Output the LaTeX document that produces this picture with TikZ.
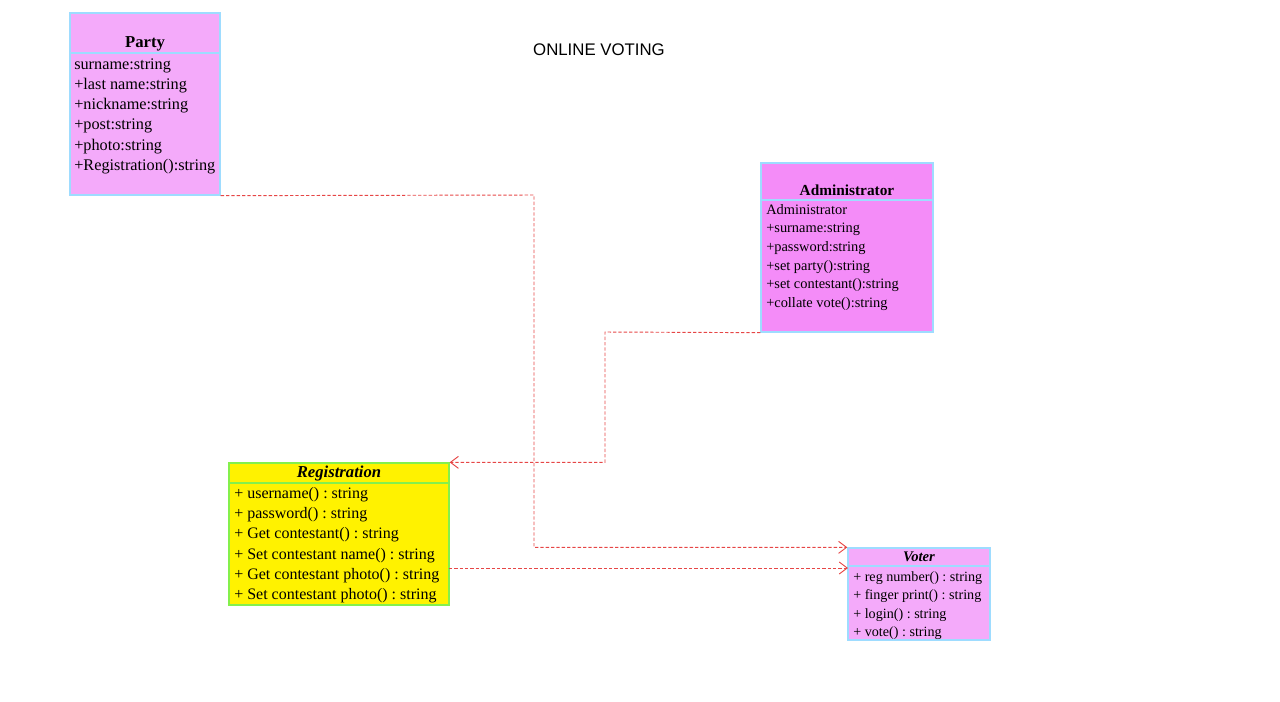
\documentclass[tikz,border=0pt]{standalone}
\usepackage{fontspec}
\setmainfont{Liberation Serif}
\newfontfamily\headfont{Liberation Sans}
\usepackage{tikz}
\usetikzlibrary{shapes,arrows.meta}
\usetikzlibrary{positioning}
\definecolor{partypink}{HTML}{F4AAFA}
\definecolor{adminpink}{HTML}{F48CF8}
\definecolor{edgecyan}{HTML}{9EDCFF}
\definecolor{reggreen}{HTML}{84F04C}
\definecolor{linkred}{HTML}{E64646}
\frenchspacing
\tikzstyle{classbox} = [draw=edgecyan, line width=1pt, fill=partypink, rectangle, inner sep=0pt]
\tikzstyle{classname} = [font=\bfseries, inner sep=0pt, anchor=base]
\tikzstyle{members} = [align=left, anchor=north west, inner sep=0pt]
\tikzstyle{link} = [draw=linkred, line width=0.7pt, dash pattern=on 2.5pt off 1.5pt, -{Straight Barb[length=6pt,width=9pt]}]

\begin{document}
\begin{tikzpicture}[x=0.75pt, y=-0.75pt]
\useasboundingbox (0,0) rectangle (1280,701);

% Title
\node [font=\headfont\fontsize{12.6}{14}\selectfont, name=heading] at (599,50) {ONLINE VOTING};

% Classes
\node [classbox, minimum width=112.5pt, minimum height=136.5pt, name=party] at (145,104) {};
\draw [edgecyan, line width=1pt] (70,53) -- (220,53);
\node [classname, font=\bfseries\fontsize{12.5}{14}\selectfont] (partyname) at (145,47) {Party};
\node [members, font=\fontsize{12.2}{15.2}\selectfont] (partyattr) at (74,58)
  {surname:string\\+last name:string\\+nickname:string\\+post:string\\+photo:string\\+Registration():string};

\node [classbox, fill=adminpink, minimum width=129pt, minimum height=126.75pt, name=admin] at (847,247.5) {};
\draw [edgecyan, line width=1pt] (761,200) -- (933,200);
\node [classname, font=\bfseries\fontsize{11.5}{13}\selectfont] (adminname) at (847,195) {Administrator};
\node [members, font=\fontsize{10.8}{14}\selectfont] (adminattr) at (766,204)
  {Administrator\\+surname:string\\+password:string\\+set party():string\\+set contestant():string\\+collate vote():string};

\node [classbox, draw=reggreen, fill=yellow, minimum width=165pt, minimum height=106.5pt, name=registration] at (339,534) {};
\draw [reggreen, line width=1pt] (229,483) -- (449,483);
\node [classname, font=\bfseries\itshape\fontsize{12.5}{14}\selectfont] (regname) at (339,477) {Registration};
\node [members, font=\fontsize{12}{15.2}\selectfont] (regattr) at (234,487)
  {+ username() : string\\+ password() : string\\+ Get contestant() : string\\+ Set contestant name() : string\\+ Get contestant photo() : string\\+ Set contestant photo() : string};

\node [classbox, minimum width=106.5pt, minimum height=69pt, name=voter] at (919,594) {};
\draw [edgecyan, line width=1pt] (848,566) -- (990,566);
\node [classname, font=\bfseries\itshape\fontsize{11}{12}\selectfont] (votername) at (919,561) {Voter};
\node [members, font=\fontsize{10.6}{13.9}\selectfont] (voterattr) at (853,571)
  {+ reg number() : string\\+ finger print() : string\\+ login() : string\\+ vote() : string};

% Links
\coordinate (partybend) at (534,195);
\coordinate (adminbend) at (605,332);
\coordinate (regout) at (449,568);
\coordinate (voterin) at (848,568);
\draw [link] (party.south east) -- (partybend) |- (voter.north west);
\draw [link] (admin.south west) -- (adminbend) |- (registration.north east);
\draw [link] (regout) -- (voterin);
\end{tikzpicture}
\end{document}
